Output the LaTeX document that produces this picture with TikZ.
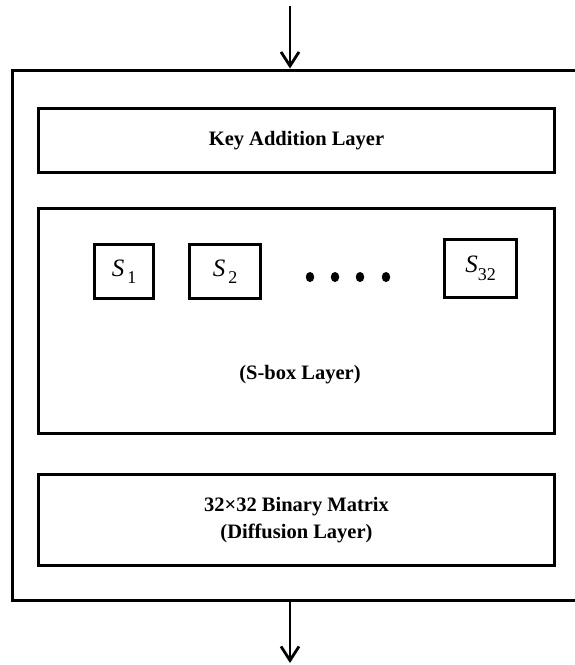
\documentclass[tikz,border=0pt]{standalone}
\usepackage{fontspec}
\setmainfont{Liberation Serif}
\usetikzlibrary{arrows.meta,shapes.geometric}
\begin{document}
\begin{tikzpicture}[x=1pt,y=-1pt,
  layerbox/.style={draw,line width=3pt,minimum width=516pt,inner sep=0pt,align=center,
    font=\fontsize{20.5}{26.5}\selectfont\bfseries},
  sbox/.style={draw,line width=3pt,inner sep=0pt,minimum height=54pt,
    font=\fontsize{25}{25}\selectfont},
  flow/.style={line width=2.8pt,-{Straight Barb[length=14pt,width=18pt,line width=2.8pt]}},
  blob/.style={fill=black,ellipse,minimum width=8.5pt,minimum height=10pt,inner sep=0pt}]
\useasboundingbox (0,0) rectangle (574,665);
\node[draw,line width=3pt,minimum width=565pt,minimum height=530pt,inner sep=0pt] (round) at (295,335) {};
\node[layerbox,minimum height=64pt] (key) at (296.5,140.5) {Key Addition Layer};
\node[layerbox,minimum height=225pt] (sl) at (296.5,321) {};
\node[font=\fontsize{20.5}{24}\selectfont\bfseries] (sllabel) at (300,375) {(S-box Layer)};
\node[layerbox,minimum height=91pt] (diff) at (296.5,520) {32×32 Binary Matrix\\(Diffusion Layer)};
\node[sbox,minimum width=59pt] (s1) at (124,271.5) {\textit{S}\raisebox{-0.3em}{\fontsize{18}{18}\selectfont\,1}};
\node[sbox,minimum width=71pt] (s2) at (225,271.5) {\textit{S}\raisebox{-0.3em}{\fontsize{18}{18}\selectfont\,2}};
\node[sbox,minimum width=72pt,minimum height=58pt] (s32) at (480.5,268.5) {\textit{S}\raisebox{-0.3em}{\fontsize{18}{18}\selectfont 32}};
\foreach \i/\xx in {1/310,2/335,3/360,4/386}
  \node[blob] (d\i) at (\xx,277) {};
\coordinate (in) at (290,6);
\coordinate (out) at (290,663);
\draw[flow] (in) -- (in |- round.north);
\draw[flow] (out |- round.south) -- (out);
\end{tikzpicture}
\end{document}
